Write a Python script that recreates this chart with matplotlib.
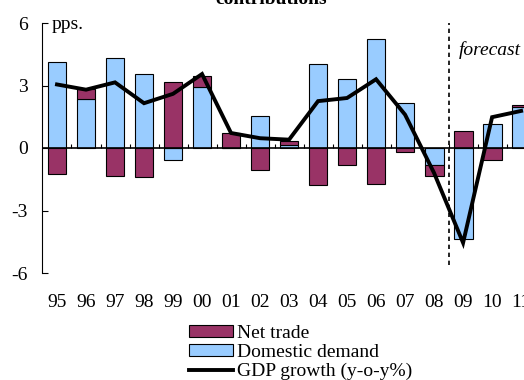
import matplotlib
matplotlib.use("Agg")
import numpy as np
import matplotlib.pyplot as plt
from matplotlib.patches import Patch
from matplotlib.lines import Line2D
from matplotlib.transforms import blended_transform_factory

plt.rcParams["font.family"] = ["Liberation Serif", "DejaVu Serif"]
plt.rcParams["font.size"] = 14

# dati (pp.)
years = ["95", "96", "97", "98", "99", "00", "01", "02", "03",
         "04", "05", "06", "07", "08", "09", "10", "11"]
domestic_demand = [4.11, 2.34, 4.34, 3.54, -0.59, 2.95, 0.0, 1.52, 0.15,
                   4.03, 3.30, 5.25, 2.15, -0.80, -4.39, 1.13, 1.96]
net_trade = [-1.23, 0.48, -1.32, -1.39, 3.16, 0.51, 0.70, -1.07, 0.20,
             -1.79, -0.83, -1.71, -0.19, -0.53, 0.80, -0.58, 0.12]
gdp_growth = [3.05, 2.80, 3.15, 2.15, 2.60, 3.55, 0.72, 0.47, 0.40,
              2.25, 2.40, 3.30, 1.60, -1.20, -4.55, 1.48, 1.78]
forecast_from = "09"

COL_NT = "#993366"
COL_DD = "#99CCFF"

x = np.arange(len(years))
dd = np.array(domestic_demand)
nt = np.array(net_trade)
# net trade si impila sopra la domanda interna solo se ha lo stesso segno
nt_bottom = np.where(np.sign(nt) == np.sign(dd), dd, 0.0)

fig = plt.figure(figsize=(5.24, 3.80), dpi=100)
ax = fig.add_axes([42 / 524, 107 / 380, 496.5 / 524, 250 / 380])

w = 0.65
ax.bar(x, dd, width=w, color=COL_DD, edgecolor="black", linewidth=0.8, zorder=2)
ax.bar(x, nt, width=w, bottom=nt_bottom, color=COL_NT, edgecolor="black",
       linewidth=0.8, zorder=2)
ax.plot(x, gdp_growth, color="black", linewidth=2.8, zorder=4,
        solid_joinstyle="miter")

ax.set_xlim(-0.517, 16.6)
ax.set_ylim(-6, 6)

# asse y
ax.set_yticks([-6, -3, 0, 3, 6])
ax.set_yticklabels(["-6", "-3", "0", "3", "6"])
ax.tick_params(axis="y", direction="in", length=4, width=0.8, pad=10)
for s in ("top", "right", "bottom"):
    ax.spines[s].set_visible(False)
ax.spines["left"].set_linewidth(0.8)

# asse x: linea dello zero con tacche tra le categorie, etichette sotto
ax.axhline(0, color="black", linewidth=1.2, zorder=3)
ax.vlines(x[:-1] + 0.5, 0, 0.2, color="black", linewidth=0.8, zorder=3)
ax.set_xticks([])
trans = blended_transform_factory(ax.transData, ax.transAxes)
for xi, lab in zip(x, years):
    ax.text(xi, -0.136, lab, transform=trans, ha="center", va="baseline")

ax.text(-0.17, 5.73, "pps.", ha="left", va="baseline")

# linea previsione
xf = years.index(forecast_from) - 0.5
ax.axvline(xf, ymin=0.033, ymax=1.0, color="black", linewidth=1.2,
           linestyle=(0, (2.6, 2.2)), zorder=5)
ax.text(xf + 0.35, 4.48, "forecast", style="italic", ha="left", va="baseline")

fig.text(271.5 / 524, 1 - 4 / 380, "contributions", ha="center", va="baseline",
         fontweight="bold")

handles = [
    Patch(facecolor=COL_NT, edgecolor="black", linewidth=0.8),
    Patch(facecolor=COL_DD, edgecolor="black", linewidth=0.8),
    Line2D([], [], color="black", linewidth=2.8),
]
labels = ["Net trade", "Domestic demand", "GDP growth (y-o-y%)"]
fig.legend(handles, labels, loc="upper left", bbox_to_anchor=(189 / 524, 55 / 380),
           frameon=False, borderpad=0, borderaxespad=0, handlelength=2.27,
           handleheight=0.57, handletextpad=0.2, labelspacing=0.1)

fig.savefig("out.png", dpi=100)
